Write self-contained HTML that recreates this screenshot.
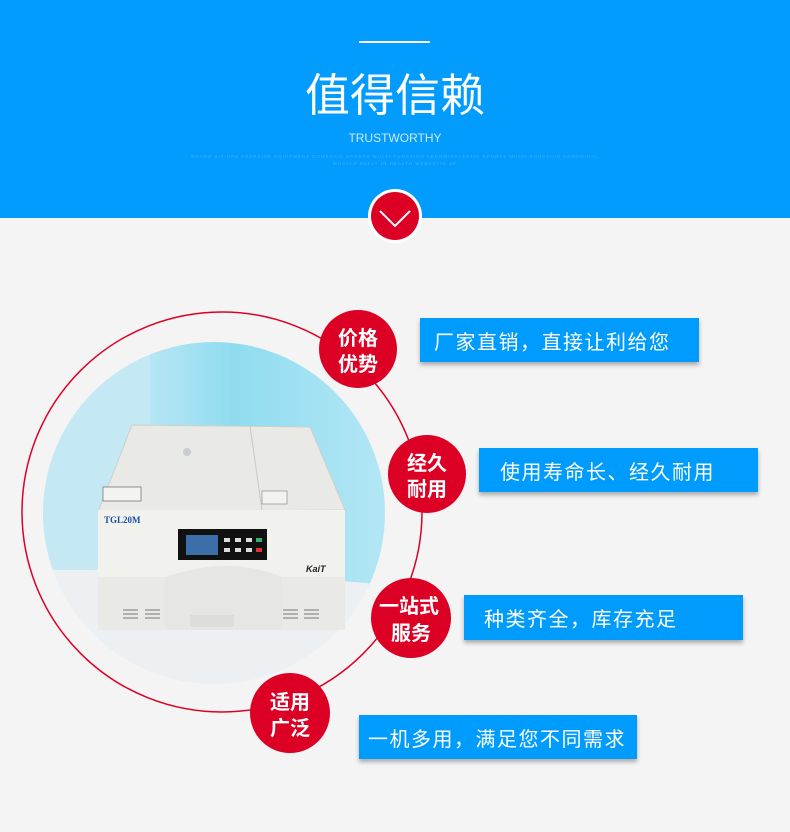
<!DOCTYPE html>
<html><head><meta charset="utf-8"><style>
body{margin:0;width:790px;height:832px;background:#f4f4f4;overflow:hidden;font-family:"Liberation Sans","Noto Sans CJK SC",sans-serif}
svg{display:block}
</style></head><body>
<svg width="790" height="832" viewBox="0 0 790 832" xmlns="http://www.w3.org/2000/svg" font-family="'Liberation Sans','Noto Sans CJK SC',sans-serif">
<defs>
<linearGradient id="bg" x1="0" y1="0" x2="1" y2="0"><stop offset="0" stop-color="#b6e6f5"/><stop offset="0.35" stop-color="#8fdcef"/><stop offset="1" stop-color="#b5e7f5"/></linearGradient>
<clipPath id="cc"><circle cx="214" cy="513" r="171"/></clipPath>
<filter id="sh" x="-5%" y="-20%" width="110%" height="150%"><feDropShadow dx="0" dy="3" stdDeviation="2" flood-color="#000" flood-opacity="0.3"/></filter>
</defs>
<rect x="0" y="0" width="790" height="218" fill="#019cfd"/>
<rect x="359" y="41" width="71" height="2" fill="#fff"/>
<text x="395" y="111" text-anchor="middle" fill="#fff" font-size="45">值得信赖</text>
<text x="395" y="142" text-anchor="middle" fill="#cfe9fb" font-size="12">TRUSTWORTHY</text>
<text x="395" y="158" text-anchor="middle" fill="#3fb2fb" font-size="4.5" letter-spacing="1">BOARD SIT-UPS EXERCISE EQUIPMENT DOMESTIC SPORTS MULTI-FUNCTION ABDOMINALESTIC SPORTS MULTI-FUNCTION ABDOMINAL</text>
<text x="395" y="165" text-anchor="middle" fill="#3fb2fb" font-size="4.5" letter-spacing="1">MUSCLE BELLY IN HEALTH WEBESTIC SP</text>
<circle cx="395" cy="216" r="27" fill="#fff"/>
<circle cx="395" cy="216" r="24" fill="#dc0025"/>
<polyline points="380,211 395,226 410,211" fill="none" stroke="#fff" stroke-width="2"/>

<circle cx="222" cy="512" r="200" fill="none" stroke="#dc0025" stroke-width="1.5"/>
<g clip-path="url(#cc)">
<rect x="40" y="340" width="350" height="350" fill="#eef1f3"/>
<rect x="40" y="340" width="110" height="230" fill="#c4e8f4"/>
<rect x="150" y="340" width="240" height="250" fill="url(#bg)"/>
<polygon points="40,575 150,565 390,585 390,690 40,690" fill="#edf0f2"/>
</g>
<!-- centrifuge -->
<polygon points="132,425 310,427 345,510 98,512" fill="#e9e9e6" stroke="#cfcfcc"/>
<line x1="250" y1="426" x2="262" y2="510" stroke="#c8c8c5"/>
<circle cx="187" cy="452" r="4" fill="#c9cdd0"/>
<rect x="103" y="487" width="38" height="14" fill="#f3f3f0" stroke="#777" stroke-width="0.8"/>
<rect x="262" y="491" width="25" height="13" fill="#f3f3f0" stroke="#999" stroke-width="0.8"/>
<rect x="98" y="510" width="247" height="120" fill="#f1f1ee"/>
<path d="M165,577 Q230,555 282,577 L282,630 L165,630 Z" fill="#e6e6e3"/>
<rect x="98" y="577" width="67" height="53" fill="#e9e9e6"/>
<rect x="282" y="577" width="63" height="53" fill="#e9e9e6"/>
<text x="104" y="523" fill="#1d4fa3" font-size="9" font-weight="bold" font-family="'Liberation Serif',serif">TGL20M</text>
<rect x="178" y="529" width="89" height="31" fill="#111"/>
<rect x="186" y="535" width="32" height="20" fill="#3c6fa7"/>
<g fill="#ddd"><rect x="224" y="538" width="6" height="4"/><rect x="235" y="538" width="6" height="4"/><rect x="246" y="538" width="6" height="4"/><rect x="224" y="548" width="6" height="4"/><rect x="235" y="548" width="6" height="4"/><rect x="246" y="548" width="6" height="4"/></g>
<rect x="256" y="538" width="6" height="4" fill="#2fb36a"/><rect x="256" y="548" width="6" height="4" fill="#e03030"/>
<text x="306" y="572" fill="#222" font-size="9" font-weight="bold" font-style="italic">KaiT</text>
<g stroke="#777" stroke-width="1"><line x1="123" y1="610" x2="138" y2="610"/><line x1="123" y1="614" x2="138" y2="614"/><line x1="123" y1="618" x2="138" y2="618"/><line x1="145" y1="610" x2="160" y2="610"/><line x1="145" y1="614" x2="160" y2="614"/><line x1="145" y1="618" x2="160" y2="618"/><line x1="283" y1="610" x2="298" y2="610"/><line x1="283" y1="614" x2="298" y2="614"/><line x1="283" y1="618" x2="298" y2="618"/><line x1="304" y1="610" x2="319" y2="610"/><line x1="304" y1="614" x2="319" y2="614"/><line x1="304" y1="618" x2="319" y2="618"/></g>
<rect x="190" y="615" width="44" height="12" fill="#dcdcd9"/>

<g fill="#dc0025">
<circle cx="358" cy="349" r="39"/><circle cx="427" cy="474" r="39"/><circle cx="411" cy="618" r="40"/><circle cx="290" cy="713" r="40"/>
</g>
<g fill="#fff" font-size="20" text-anchor="middle" font-weight="bold">
<text x="358" y="345">价格</text><text x="358" y="371">优势</text>
<text x="427" y="470">经久</text><text x="427" y="496">耐用</text>
<text x="409" y="613">一站式</text><text x="411" y="640">服务</text>
<text x="290" y="709">适用</text><text x="290" y="735">广泛</text>
</g>
<g fill="#019cfd" filter="url(#sh)">
<rect x="420" y="318" width="279" height="44"/><rect x="479" y="448" width="279" height="44"/><rect x="464" y="595" width="279" height="45"/><rect x="359" y="715" width="278" height="44"/>
</g>
<g fill="#fff" font-size="20" letter-spacing="1.5">
<text x="434" y="349">厂家直销，直接让利给您</text>
<text x="500" y="479">使用寿命长、经久耐用</text>
<text x="484" y="626">种类齐全，库存充足</text>
<text x="368" y="746">一机多用，满足您不同需求</text>
</g>
</svg>
</body></html>
